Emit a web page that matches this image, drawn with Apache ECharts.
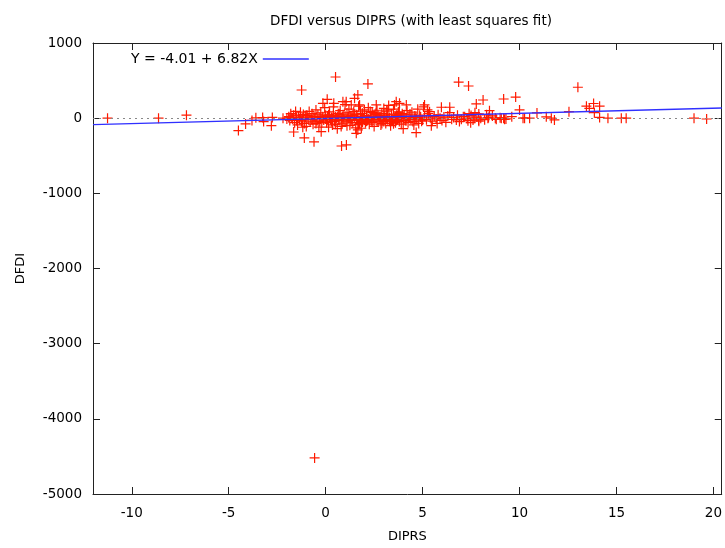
<!DOCTYPE html>
<html><head><meta charset="utf-8">
<script src="https://cdn.jsdelivr.net/npm/echarts@6/dist/echarts.min.js"></script>
<style>html,body{margin:0;padding:0;background:#fff}#c{width:725px;height:548px}</style>
</head><body><div id="c"></div>
<script>
const titleText = 'DFDI versus DIPRS (with least squares fit)';
const xName = 'DIPRS';
const yName = 'DFDI';
const xTicks = [-10, -5, 0, 5, 10, 15, 20];
const yTicks = [-5000, -4000, -3000, -2000, -1000, 0, 1000];
const xMin = -12, xMax = 20.43;
const yMin = -5000, yMax = 1000;
const fitIntercept = -4.01;
const fitSlope = 6.82;
const fitLabel = 'Y = -4.01 + 6.82X';

// scattered / outlying observations [DIPRS, DFDI]
const pointsOuter = [
[-11.25,0],[-8.62,0],[-7.18,40],
[-4.5,-165],[-4.13,-77],[-3.8,-30],[-3.6,5],[-3.25,8],[-3.2,-45],[-2.8,-100],[-2.75,10],[-2.2,0],[-2.0,-10],[-1.9,5],
[-1.24,375],[-1.55,90],[-1.65,-184],[-1.1,-263],[-0.6,-315],[-0.57,-4520],[-1.18,-121],[-0.23,-180],
[-0.14,198],[0.08,251],[0.42,198],[0.89,219],[0.51,548],[1.06,219],[1.32,176],
[1.49,264],[1.66,309],[1.75,176],[2.18,455],[2.61,176],[3.21,109],[3.55,176],[3.64,219],[3.81,198],
[1.66,-157],[1.84,-134],[1.58,-201],[0.82,-370],[1.07,-356],[4.67,-192],
[4.16,176],[5.1,176],[5.97,145],[6.4,145],[5.36,86],
[6.86,480],[7.37,428],[7.77,189],[8.12,242],[9.18,255],[9.8,280],[10.0,110],[8.45,100],[7.7,73],[7.9,56],
[10.9,70],[12.55,86],[10.26,0],[10.52,0],[11.38,18],[11.64,0],[11.8,-24],[9.18,0],
[13.01,411],[13.45,160],[13.82,195],[14.13,160],[13.6,131],[13.86,73],[14.13,10],[14.56,0],[15.25,0],[15.5,0],[19.0,0],[19.65,-11],
[6.74,-24],[7.0,-15],[7.17,20],[7.34,-33],[7.48,-60],[7.65,0],[7.89,-24],[8.37,0],[8.75,0],[9.06,0],[9.23,-15],[10.18,0]
];

// dense central cluster [DIPRS, DFDI]
const pointsCluster = [
[-1.9,20],[-1.85,-30],[-1.8,60],[-1.7,-10],[-1.65,40],[-1.6,-60],[-1.5,10],[-1.45,-90],[-1.4,30],[-1.35,-20],
[-1.3,80],[-1.25,-40],[-1.2,0],[-1.15,50],[-1.1,-70],[-1.05,15],[-1.0,-110],[-0.95,35],[-0.9,-15],[-0.85,90],
[-0.8,-50],[-0.75,5],[-0.7,60],[-0.65,-80],[-0.6,25],[-0.55,-5],[-0.5,110],[-0.45,-35],[-0.4,45],[-0.35,-120],
[-0.3,10],[-0.25,70],[-0.2,-60],[-0.15,20],[-0.1,-25],[-0.05,140],[0,-10],[0,40],[-0.5,-70],[-1.0,40],[-1.5,-30],
[0.05,-60],[0.1,30],[0.15,-120],[0.2,85],[0.25,-15],[0.3,10],[0.35,-90],[0.4,150],[0.45,-40],[0.5,20],
[0.55,-5],[0.6,-140],[0.65,60],[0.7,-30],[0.75,100],[0.8,0],[0.85,-75],[0.9,45],[0.95,-20],[1.0,180],
[0.1,-20],[0.2,5],[0.3,-45],[0.4,35],[0.5,-80],[0.6,15],[0.7,55],[0.8,-110],[0.9,-10],[1.0,25],
[1.05,-50],[1.1,70],[1.15,-15],[1.2,120],[1.25,-95],[1.3,30],[1.35,-5],[1.4,-60],[1.45,90],[1.5,10],
[1.55,-130],[1.6,45],[1.65,-25],[1.7,160],[1.75,-70],[1.8,20],[1.85,-40],[1.9,65],[1.95,-10],[2.0,110],
[1.1,-100],[1.3,-30],[1.5,55],[1.7,-85],[1.9,-55],[1.2,15],[1.4,40],[1.6,-15],[1.8,95],[2.0,-25],
[2.05,-60],[2.1,35],[2.15,-15],[2.2,140],[2.25,-80],[2.3,20],[2.35,-35],[2.4,75],[2.45,5],[2.5,-110],
[2.55,50],[2.6,-20],[2.65,105],[2.7,-50],[2.75,25],[2.8,-5],[2.85,-90],[2.9,60],[2.95,-30],[3.0,130],
[2.1,-40],[2.3,90],[2.5,0],[2.7,40],[2.9,-70],[2.2,-10],[2.4,-55],[2.6,65],[2.8,15],[3.0,-45],
[3.05,30],[3.1,-70],[3.15,95],[3.2,-20],[3.25,170],[3.3,10],[3.35,-100],[3.4,55],[3.45,-35],[3.5,120],
[3.55,0],[3.6,-60],[3.65,40],[3.7,-15],[3.75,85],[3.8,-45],[3.85,20],[3.9,-80],[3.95,60],[4.0,-10],
[3.2,45],[3.4,-25],[3.6,15],[3.8,70],[3.0,5],[3.3,-40],[3.5,-75],[3.7,35],[3.9,10],
[4.05,45],[4.1,-30],[4.2,100],[4.25,-60],[4.3,20],[4.4,-15],[4.45,80],[4.5,-45],[4.6,30],[4.7,-5],
[4.75,120],[4.8,-70],[4.9,15],[5.0,-25],[4.15,5],[4.35,55],[4.55,-90],[4.65,10],[4.85,40],[4.95,-40],
[5.1,30],[5.2,-20],[5.3,60],[5.4,5],[5.5,-40],[5.6,25],[5.7,-10],[5.8,45],[5.9,0],[6.0,-30],
[6.1,15],[6.2,-55],[6.3,30],[6.5,-15],[6.6,10],[6.8,40],[7.1,20],[7.3,-5],[7.5,35],[7.6,-25],
[7.8,15],[8.0,0],[8.2,-20],[8.4,10],[8.6,30],[8.8,-15],[9.0,5],[9.3,-10],[9.6,20],
[5.25,110],[5.75,-70],[6.4,75],[6.9,-45],[7.4,60],[8.3,45],[5.05,150],[5.45,-100],[4.0,-140],[7.9,-40],
[-1.75,5],[-1.2,-25],[-0.7,-20],[-0.3,-45],[0.15,45],[0.65,-25],[1.15,20],[1.65,10],[2.15,-30],[2.65,15],
[3.15,-10],[3.65,-30],[4.15,-35],[4.6,-10],[0.35,0],[0.85,15],[1.35,-20],[1.85,5],[2.35,-5],[2.85,25]
];

const fitX = [xMin, xMax];
const fitData = fitX.map(x => [x, fitIntercept + fitSlope * x]);

const plusPath = 'path://M0,4.4H10V5.6H0Z M4.4,0H5.6V10H4.4Z';
const font = 'DejaVu Sans';
const axisCommon = {
  type: 'value',
  splitLine: { show: false },
  axisLine: { show: true, onZero: false, lineStyle: { color: '#222', width: 1 } },
  axisTick: { show: true, inside: true, length: 7, lineStyle: { color: '#222' } }
};

const chart = echarts.init(document.getElementById('c'), null, { renderer: 'canvas' });
chart.setOption({
  backgroundColor: '#fff',
  animation: false,
  textStyle: { fontFamily: font },
  title: {
    text: titleText, left: 406, top: 9, textAlign: 'center',
    textStyle: { fontFamily: font, fontSize: 13.5, fontWeight: 'normal', color: '#000' }
  },
  legend: {
    data: [{ name: fitLabel, icon: 'rect' }],
    left: 126, top: 47, align: 'right', itemWidth: 46, itemHeight: 1.5, itemGap: 10,
    textStyle: { fontFamily: font, fontSize: 14, color: '#000' }
  },
  grid: { left: 93, right: 3, top: 43, bottom: 54, containLabel: false },
  xAxis: [
    Object.assign({}, axisCommon, {
      min: xMin, max: xMax, position: 'bottom',
      axisTick: Object.assign({}, axisCommon.axisTick, { customValues: xTicks }),
      axisLabel: { customValues: xTicks, fontFamily: font, fontSize: 13.5, color: '#000', margin: 12,
        formatter: v => String(v) },
      name: xName, nameLocation: 'middle', nameGap: 36,
      nameTextStyle: { fontFamily: font, fontSize: 13, color: '#000' }
    }),
    Object.assign({}, axisCommon, {
      min: xMin, max: xMax, position: 'top',
      axisTick: Object.assign({}, axisCommon.axisTick, { customValues: xTicks }),
      axisLabel: { show: false }
    })
  ],
  yAxis: [
    Object.assign({}, axisCommon, {
      min: yMin, max: yMax, interval: 1000, position: 'left',
      axisLabel: { fontFamily: font, fontSize: 13.5, color: '#000', margin: 11,
        formatter: v => String(v) },
      name: yName, nameLocation: 'middle', nameGap: 66, nameRotate: 90,
      nameTextStyle: { fontFamily: font, fontSize: 13, color: '#000' }
    }),
    Object.assign({}, axisCommon, {
      min: yMin, max: yMax, interval: 1000, position: 'right',
      axisLabel: { show: false }
    })
  ],
  series: [
    {
      type: 'scatter', name: 'obs', xAxisIndex: 0, yAxisIndex: 0,
      data: pointsOuter.concat(pointsCluster),
      symbol: plusPath, symbolSize: 10,
      itemStyle: { color: '#ff1a00', opacity: 1 },
      markLine: {
        silent: true, symbol: 'none', label: { show: false },
        lineStyle: { color: '#888', type: [2, 4], width: 1 },
        data: [{ yAxis: 0 }]
      },
      z: 2
    },
    {
      type: 'line', name: fitLabel, xAxisIndex: 0, yAxisIndex: 0,
      data: fitData, showSymbol: false, symbol: 'none',
      lineStyle: { color: '#3030ff', width: 1.3 },
      itemStyle: { color: '#3030ff' },
      z: 3
    }
  ]
});
</script>
</body></html>
